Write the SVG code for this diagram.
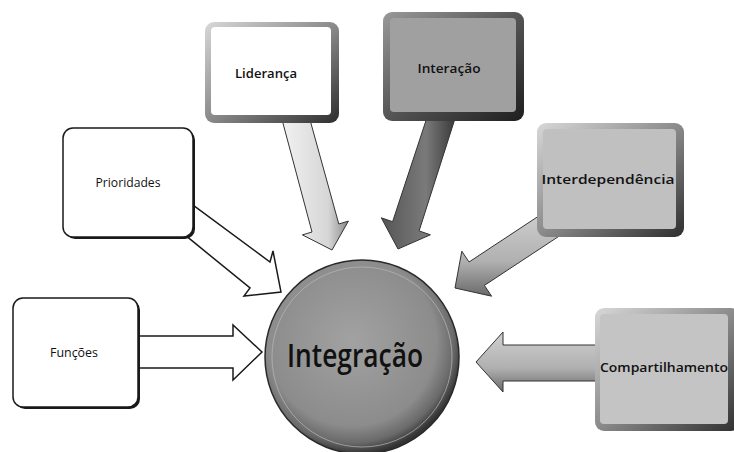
<svg xmlns="http://www.w3.org/2000/svg" width="734" height="452" viewBox="0 0 734 452">
<defs>
<linearGradient id="frame" x1="0" y1="0" x2="1" y2="1">
<stop offset="0" stop-color="#d8d8d8"/>
<stop offset="0.5" stop-color="#8a8a8a"/>
<stop offset="1" stop-color="#2e2e2e"/>
</linearGradient>
<linearGradient id="frameDark" x1="0" y1="0" x2="1" y2="1">
<stop offset="0" stop-color="#9a9a9a"/>
<stop offset="0.5" stop-color="#555"/>
<stop offset="1" stop-color="#1e1e1e"/>
</linearGradient>
<radialGradient id="ball" cx="0.45" cy="0.42" r="0.58">
<stop offset="0" stop-color="#a2a2a2"/>
<stop offset="0.75" stop-color="#8c8c8c"/>
<stop offset="0.9" stop-color="#6a6a6a"/>
<stop offset="1" stop-color="#333"/>
</radialGradient>
<linearGradient id="arLight" x1="0" y1="0" x2="1" y2="0">
<stop offset="0" stop-color="#f2f2f2"/>
<stop offset="0.7" stop-color="#d6d6d6"/>
<stop offset="1" stop-color="#8a8a8a"/>
</linearGradient>
<linearGradient id="arDark" x1="0" y1="0" x2="1" y2="0">
<stop offset="0" stop-color="#555"/>
<stop offset="0.6" stop-color="#7a7a7a"/>
<stop offset="1" stop-color="#3a3a3a"/>
</linearGradient>
<linearGradient id="arMid" x1="0" y1="0" x2="0" y2="1">
<stop offset="0" stop-color="#d0d0d0"/>
<stop offset="0.6" stop-color="#b0b0b0"/>
<stop offset="1" stop-color="#6a6a6a"/>
</linearGradient>
</defs>
<style>
.lbl{font-family:"Open Sans","Noto Sans","Liberation Sans",sans-serif;text-anchor:middle;fill:#111}
.sm{font-size:12px}
.b{font-weight:600}
.plain{fill:#fff;stroke:#1a1a1a;stroke-width:1.5}
.shadow{fill:#1a1a1a}
.outline{stroke:#1a1a1a;stroke-width:1.5;stroke-linejoin:miter}
.shade{stroke:#333;stroke-width:1}
</style>
<rect width="734" height="452" fill="#fff"/>
<g id="connectors">
<polygon class="outline" fill="#fff" points="185.3,199.3 270,262 273,251 281,292 244,296 250,288 178.5,229.7"/>
<polygon class="outline" fill="#fff" points="130,336 233,336 233,325 262,352 233,380 233,368 130,368"/>
<polygon class="shade" fill="url(#arLight)" points="281.6,118 312.0,232.0 302.4,234.9 332,250 348.4,221.1 338.8,224.0 308.4,114"/>
<polygon class="shade" fill="url(#arDark)" points="428.8,112 392.6,221.7 381.3,217.8 398,249 430.4,234.8 419.1,230.9 455.2,118"/>
<polygon class="shade" fill="url(#arMid)" points="548.3,209.7 469.0,262.0 461.8,251.2 455,288 491.6,296.2 484.4,285.4 563.7,233.1"/>
<polygon class="shade" fill="url(#arMid)" points="600,345 503,345 503,332 476,362 503,392 503,381 600,381"/>
</g>
<g id="prioridades">
<rect class="shadow" x="65" y="130" width="130" height="109" rx="10"/>
<rect class="plain" x="63" y="128" width="130" height="109" rx="10"/>
<text class="lbl sm" x="128" y="187" textLength="65" lengthAdjust="spacingAndGlyphs">Prioridades</text>
</g>
<g id="funcoes">
<rect class="shadow" x="15" y="300" width="125" height="109" rx="10"/>
<rect class="plain" x="13" y="298" width="125" height="109" rx="10"/>
<text class="lbl sm" x="74" y="357" textLength="48" lengthAdjust="spacingAndGlyphs">Funções</text>
</g>
<g id="lideranca">
<rect x="205" y="22" width="134" height="101" rx="9" fill="url(#frame)"/>
<rect x="211" y="27" width="120" height="88" rx="4" fill="#fff"/>
<text class="lbl sm b" x="266" y="78" textLength="62" lengthAdjust="spacingAndGlyphs">Liderança</text>
</g>
<g id="interacao">
<rect x="383" y="12" width="141" height="109" rx="9" fill="url(#frameDark)"/>
<rect x="390" y="18" width="126" height="94" rx="4" fill="#a0a0a0"/>
<text class="lbl sm b" x="449" y="73" textLength="63" lengthAdjust="spacingAndGlyphs">Interação</text>
</g>
<g id="interdependencia">
<rect x="537" y="123" width="147" height="114" rx="9" fill="url(#frame)"/>
<rect x="543" y="129" width="133" height="100" rx="4" fill="#c0c0c0"/>
<text class="lbl b" font-size="13" x="608" y="184" textLength="133" lengthAdjust="spacingAndGlyphs">Interdependência</text>
</g>
<g id="compartilhamento">
<rect x="595" y="308" width="145" height="123" rx="9" fill="url(#frame)"/>
<rect x="600" y="314" width="128" height="110" rx="4" fill="#c4c4c4"/>
<text class="lbl b" font-size="13" x="664" y="372" textLength="128" lengthAdjust="spacingAndGlyphs">Compartilhamento</text>
</g>
<g id="integracao">
<circle cx="362" cy="357" r="97" fill="url(#ball)" stroke="#2a2a2a" stroke-width="1.5"/>
<circle cx="362" cy="357" r="90" fill="none" stroke="#b8b8b8" stroke-width="1" opacity="0.7"/>
<text class="lbl b" font-size="32" x="355" y="367" textLength="136" lengthAdjust="spacingAndGlyphs">Integração</text>
</g>
</svg>
